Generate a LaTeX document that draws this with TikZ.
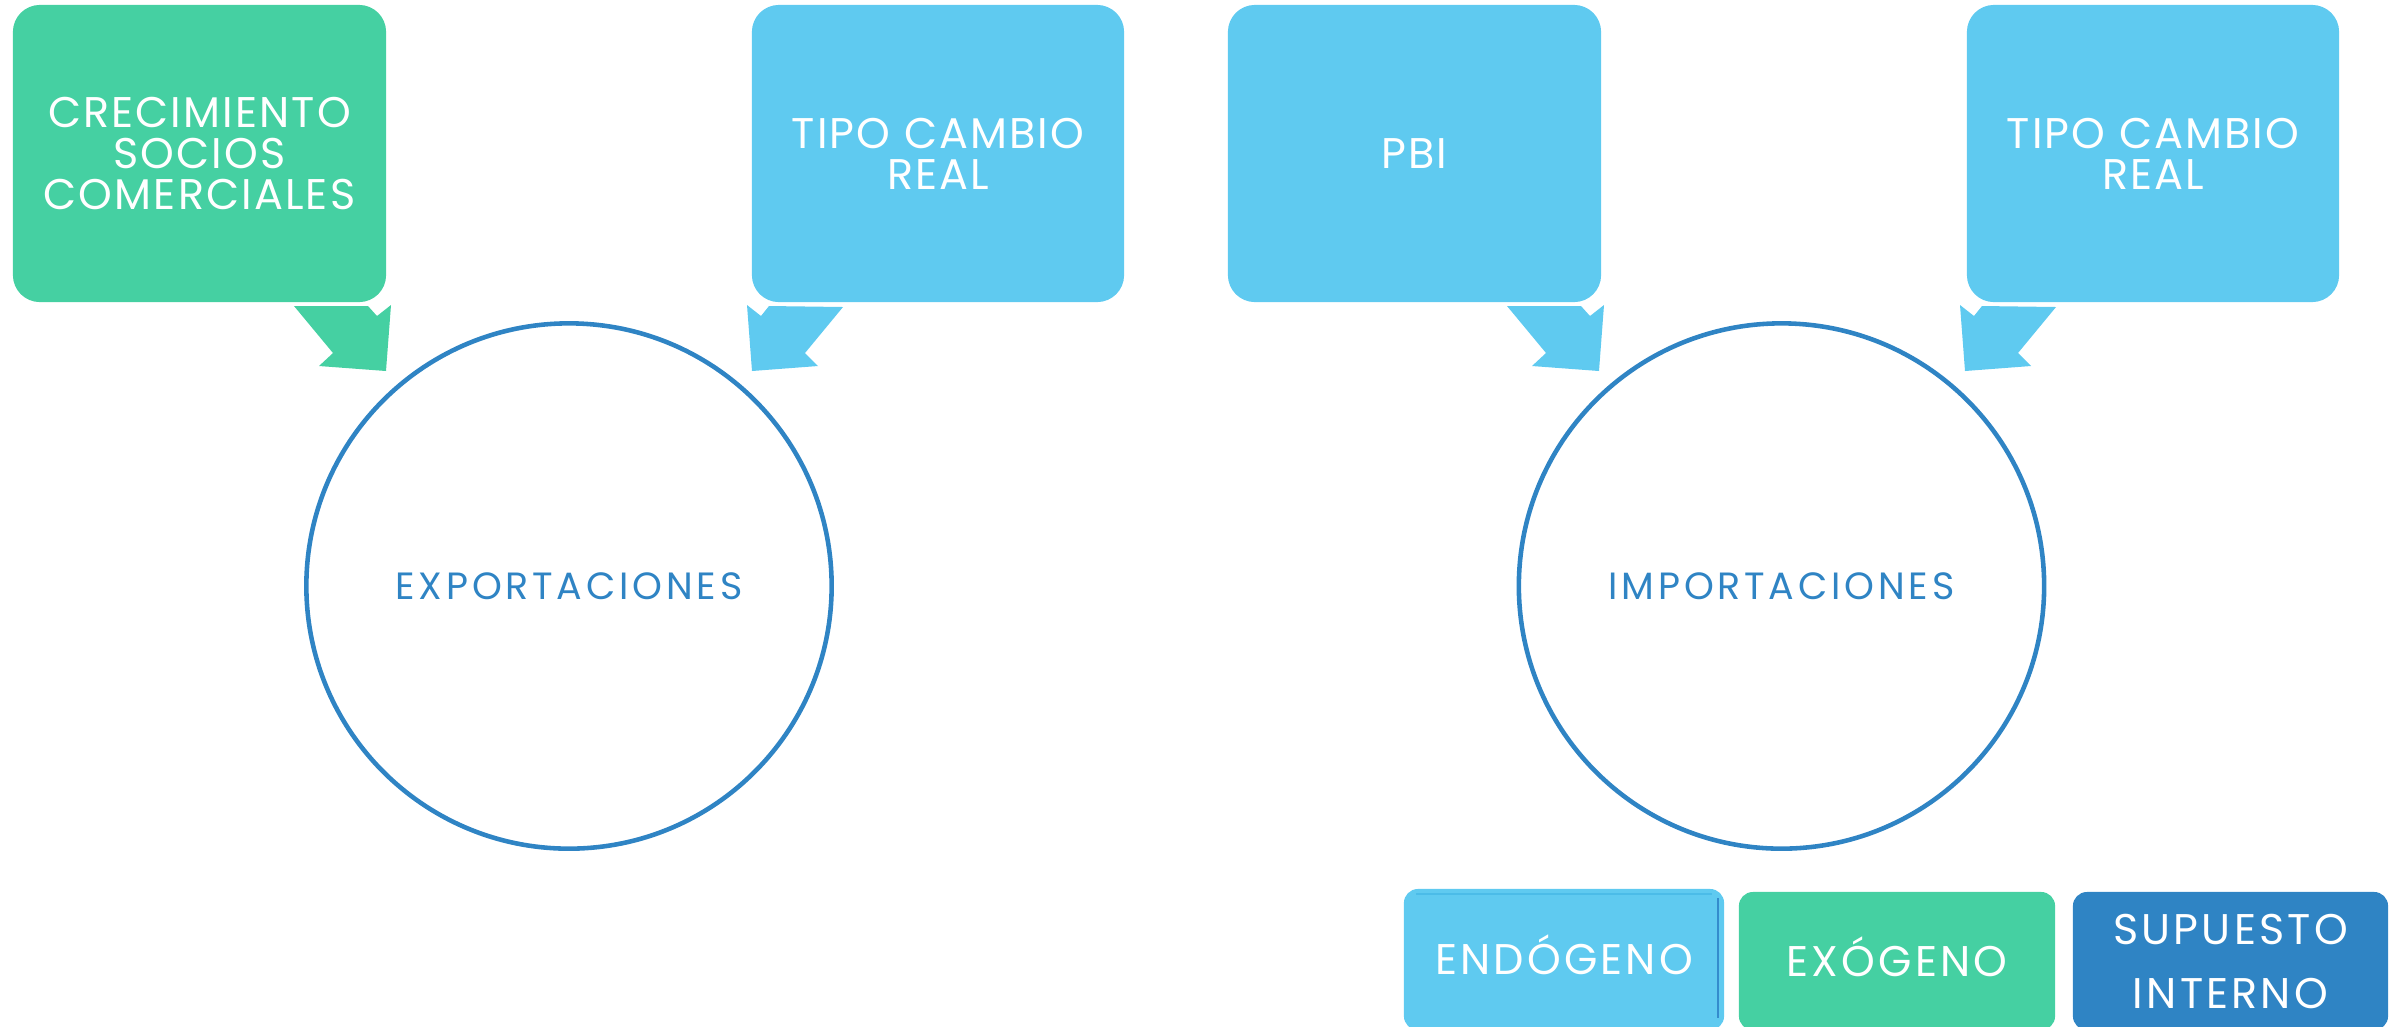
\documentclass[tikz,border=0pt]{standalone}
\usepackage{fontspec}
\setmainfont{Poppins}
\definecolor{cgreen}{RGB}{69,208,162}
\definecolor{ccyan}{RGB}{95,202,240}
\definecolor{cblue}{RGB}{47,132,196}
\definecolor{cline}{RGB}{75,188,232}
\definecolor{cdark}{RGB}{52,140,205}
\begin{document}
\begin{tikzpicture}[x=0.01cm,y=-0.01cm,
  bigbox/.style={rounded corners=0.27cm, minimum height=2.97cm, text=white, align=center,
    font=\fontsize{12.2}{11.7}\selectfont\addfontfeature{LetterSpace=5}, inner sep=0pt},
  legbox/.style={rounded corners=0.14cm, text=white, align=center,
    font=\fontsize{12.2}{18.2}\selectfont\addfontfeature{LetterSpace=7.5}, inner sep=0pt},
  captxt/.style={text height=0.3cm, text depth=0pt},
  bigcircle/.style={circle, draw=cblue, line width=1.3pt, minimum size=5.25cm, text=cblue,
    font=\fontsize{10.8}{12}\selectfont\addfontfeature{LetterSpace=10}, inner sep=0pt}]
\useasboundingbox (0,0) rectangle (2399,1026);
% boxes
\node[bigbox, fill=cgreen, minimum width=3.73cm] (csc) at (199.5,153.5) {CRECIMIENTO\\SOCIOS\\COMERCIALES};
\node[bigbox, fill=ccyan, minimum width=3.72cm] (tcr1) at (938,153.5) {TIPO CAMBIO\\REAL};
\node[bigbox, fill=ccyan, minimum width=3.73cm] (pbi) at (1414.5,153.5) {PBI};
\node[bigbox, fill=ccyan, minimum width=3.72cm] (tcr2) at (2153,153.5) {TIPO CAMBIO\\REAL};
% circles
\node[bigcircle] (exp) at (569,586) {EXPORTACIONES};
\node[bigcircle] (imp) at (1781.5,586) {IMPORTACIONES};
% arrows
\fill[cgreen] (294,306) -- (368,306) -- (377,316) -- (391,305) -- (386,371) -- (319,366) -- (333,353) -- cycle;
\fill[ccyan] (747,305) -- (761,316) -- (769,306) -- (843,307) -- (805,353) -- (818,366) -- (752,371) -- cycle;
\fill[ccyan] (1507,306) -- (1581,306) -- (1590,316) -- (1604,305) -- (1599,371) -- (1532,366) -- (1546,353) -- cycle;
\fill[ccyan] (1960,305) -- (1974,316) -- (1982,306) -- (2056,307) -- (2018,353) -- (2031,366) -- (1965,371) -- cycle;
% legend
\node[legbox, captxt, fill=ccyan, minimum width=3.20cm, minimum height=1.41cm] (endo) at (1564,959.5) {ENDÓGENO};
\draw[cline, line width=0.5pt] (1416,894) -- (1712,894);
\draw[cdark, line width=0.6pt] (1718,898) -- (1718,1018);
\node[legbox, captxt, fill=cgreen, minimum width=3.16cm, minimum height=1.38cm] (exo) at (1897,961) {EXÓGENO};
\node[legbox, fill=cblue, minimum width=3.15cm, minimum height=1.38cm] (sup) at (2230.5,961) {SUPUESTO\\INTERNO};
\end{tikzpicture}
\end{document}
